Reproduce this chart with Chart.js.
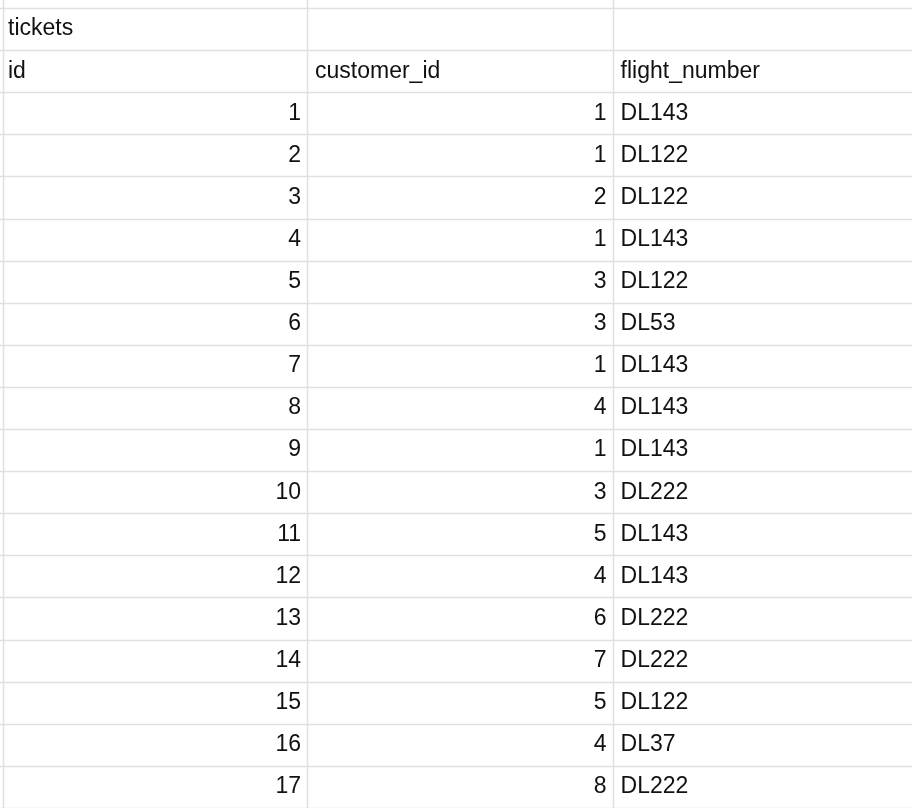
<!DOCTYPE html>
<html>
<head>
<meta charset="utf-8">
<script src="https://cdn.jsdelivr.net/npm/chart.js@4.4.1/dist/chart.umd.min.js"></script>
<style>
html,body{margin:0;padding:0;background:#fff;}
#wrap{width:912px;height:808px;}
</style>
</head>
<body>
<div id="wrap"><canvas id="sheet"></canvas></div>
<script>
const tableTitle = "tickets";
const headers = ["id", "customer_id", "flight_number"];
const ids = [1,2,3,4,5,6,7,8,9,10,11,12,13,14,15,16,17];
const customerIds = [1,1,2,1,3,3,1,4,1,3,5,4,6,7,5,4,8];
const flights = ["DL143","DL122","DL122","DL143","DL122","DL53","DL143","DL143","DL143","DL222","DL143","DL143","DL222","DL222","DL122","DL37","DL222"];

// colonne: 0-1 id, 1-2 customer_id, 2-3 flight_number; filas 0..19 (0 = título)
const colEdges = [0, 1.01, 2.015, 3];
const rowCount = ids.length + 2;

const tablePlugin = {
  id: "tablePlugin",
  afterDatasetsDraw(chart) {
    const {ctx, scales:{x, y}, chartArea} = chart;
    ctx.save();
    ctx.strokeStyle = "#e0e0e0";
    ctx.lineWidth = 1.5;
    // líneas horizontales
    for (let r = 0; r <= rowCount; r++) {
      const py = Math.round(y.getPixelForValue(r)) + 0.5;
      ctx.beginPath(); ctx.moveTo(0, py); ctx.lineTo(chart.width, py); ctx.stroke();
    }
    // líneas verticales
    [0.01, colEdges[1], colEdges[2]].forEach(c => {
      const px = Math.round(x.getPixelForValue(c)) + 0.5;
      ctx.beginPath(); ctx.moveTo(px, 0); ctx.lineTo(px, chart.height); ctx.stroke();
    });
    ctx.fillStyle = "#111";
    ctx.font = "23px 'Liberation Sans', Arial, sans-serif";
    ctx.textBaseline = "middle";
    const mid = r => y.getPixelForValue(r + 0.5);
    const left = c => x.getPixelForValue(colEdges[c]) + 8;
    const right = c => x.getPixelForValue(colEdges[c + 1]) - 6;
    ctx.textAlign = "left";
    ctx.fillText(tableTitle, left(0), mid(0));
    headers.forEach((h, i) => ctx.fillText(h, left(i), mid(1)));
    ids.forEach((v, i) => {
      const r = i + 2;
      ctx.textAlign = "right";
      ctx.fillText(String(v), right(0), mid(r));
      ctx.fillText(String(customerIds[i]), right(1), mid(r));
      ctx.textAlign = "left";
      ctx.fillText(flights[i], left(2), mid(r));
    });
    ctx.restore();
  }
};

new Chart(document.getElementById("sheet"), {
  type: "scatter",
  data: {datasets: [{data: ids.map((v, i) => ({x: 0.5, y: i + 2.5})), pointRadius: 0}]},
  options: {
    responsive: true, maintainAspectRatio: false, animation: false,
    layout: {padding: {top: 8, bottom: 0, left: 0, right: 0}},
    scales: {
      x: {type: "linear", min: 0, max: 3, display: false},
      y: {type: "linear", min: 0, max: rowCount, reverse: true, display: false}
    },
    plugins: {legend: {display: false}, tooltip: {enabled: false}}
  },
  plugins: [tablePlugin]
});
</script>
</body>
</html>
